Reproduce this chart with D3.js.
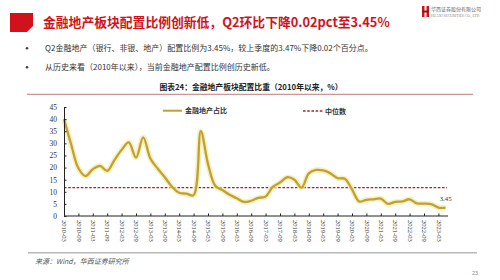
<!DOCTYPE html>
<html>
<head>
<meta charset="utf-8">
<script src="https://cdn.jsdelivr.net/npm/d3@7"></script>
<style>
  body { margin: 0; background: #fff; }
  svg { display: block; }
  .cn { font-family: "Noto Sans CJK SC", "Noto Sans", sans-serif; }
  .axis text { font-family: "Liberation Serif", "DejaVu Serif", serif; fill: #333; }
  .axis path, .axis line { stroke: #222; }
</style>
</head>
<body>
<svg id="chart" width="500" height="280"></svg>
<script>
// quarter ends, 2010Q1 .. 2023Q2
var quarters = [
  "2010-03","2010-06","2010-09","2010-12","2011-03","2011-06","2011-09","2011-12",
  "2012-03","2012-06","2012-09","2012-12","2013-03","2013-06","2013-09","2013-12",
  "2014-03","2014-06","2014-09","2014-12","2015-03","2015-06","2015-09","2015-12",
  "2016-03","2016-06","2016-09","2016-12","2017-03","2017-06","2017-09","2017-12",
  "2018-03","2018-06","2018-09","2018-12","2019-03","2019-06","2019-09","2019-12",
  "2020-03","2020-06","2020-09","2020-12","2021-03","2021-06","2021-09","2021-12",
  "2022-03","2022-06","2022-09","2022-12","2023-03","2023-06"
];
// 金融地产占比 (%)
var shareValues = [
  40.0, 29.5, 19.7, 16.5, 19.3, 20.7, 18.6, 23.1,
  27.3, 30.4, 24.1, 32.5, 23.7, 19.6, 16.0, 12.1,
  9.6, 9.2, 8.6, 35.0, 21.5, 12.5, 10.7, 8.8,
  7.3, 5.8, 6.3, 7.5, 8.0, 12.0, 13.8, 16.0,
  15.0, 11.7, 17.6, 19.0, 18.8, 17.6, 15.6, 15.4,
  11.0, 6.0, 6.7, 6.9, 7.2, 5.0, 5.8, 6.0,
  6.9, 5.2, 5.1, 4.9, 3.47, 3.45
];
var medianValue = 11.7;
var tickLabels = [
  "2010-03","2010-09","2011-03","2011-09","2012-03","2012-09","2013-03","2013-09",
  "2014-03","2014-09","2015-03","2015-09","2016-03","2016-09","2017-03","2017-09",
  "2018-03","2018-09","2019-03","2019-09","2020-03","2020-09","2021-03","2021-09",
  "2022-03","2022-09","2023-03"
];
var yTicks = [0, 5, 10, 15, 20, 25, 30, 35, 40, 45];

var svg = d3.select("#chart");
var red = "#d2121b";

// header block
svg.append("path")
  .attr("d", "M10,13 H33 V26 L27,32 H10 Z")
  .attr("fill", red);
svg.append("text").attr("class", "cn")
  .attr("x", 43).attr("y", 27)
  .attr("font-size", 12.8).attr("font-weight", "bold")
  .attr("fill", red)
  .text("金融地产板块配置比例创新低，Q2环比下降0.02pct至3.45%");

// logo
svg.append("rect").attr("x", 422).attr("y", 6).attr("width", 2.5).attr("height", 11).attr("fill", red);
svg.append("rect").attr("x", 426.5).attr("y", 6).attr("width", 2.5).attr("height", 11).attr("fill", red);
svg.append("rect").attr("x", 422).attr("y", 10.5).attr("width", 7).attr("height", 2).attr("fill", "#8a1a1a");
svg.append("text").attr("class", "cn").attr("x", 431).attr("y", 11)
  .attr("font-size", 5).attr("fill", "#666").text("华西证券股份有限公司");
svg.append("text").attr("x", 431).attr("y", 16.5)
  .attr("font-family", "Liberation Serif").attr("font-size", 3.6).attr("fill", "#888")
  .text("HUAXI SECURITIES CO., LTD.");

// bullets
var bullets = [
  { y: 51, t: "Q2金融地产（银行、非银、地产）配置比例为3.45%，较上季度的3.47%下降0.02个百分点。" },
  { y: 70, t: "从历史来看（2010年以来），当前金融地产配置比例创历史新低。" }
];
bullets.forEach(function (b) {
  svg.append("circle").attr("cx", 27).attr("cy", b.y - 2.8).attr("r", 1.3).attr("fill", "#444");
  svg.append("text").attr("class", "cn")
    .attr("x", 45).attr("y", b.y)
    .attr("font-size", 8).attr("fill", "#333")
    .text(b.t);
});

// chart title + rules
svg.append("text").attr("class", "cn")
  .attr("x", 251).attr("y", 89.5)
  .attr("text-anchor", "middle")
  .attr("font-size", 7.8).attr("font-weight", "bold").attr("fill", "#222")
  .text("图表24：金融地产板块配置比重（2010年以来，%）");
svg.append("line").attr("x1", 27).attr("x2", 473).attr("y1", 94.3).attr("y2", 94.3)
  .attr("stroke", "#b3585a").attr("stroke-width", 0.8);
svg.append("line").attr("x1", 28).attr("x2", 477).attr("y1", 252.7).attr("y2", 252.7)
  .attr("stroke", "#b8b8b8").attr("stroke-width", 1.4);

// scales
var x = d3.scalePoint().domain(quarters).range([64, 445.6]);
var y = d3.scaleLinear().domain([0, 45]).range([216, 107]);

// median
svg.append("line")
  .attr("x1", x(quarters[0])).attr("x2", 447)
  .attr("y1", y(medianValue)).attr("y2", y(medianValue))
  .attr("stroke", "#a8232b").attr("stroke-width", 1.3)
  .attr("stroke-dasharray", "2.6,1.6");

// line with glow
var line = d3.line()
  .x(function (d, i) { return x(quarters[i]); })
  .y(function (d) { return y(d); })
  .curve(d3.curveCatmullRom.alpha(0.5));

svg.append("path").datum(shareValues)
  .attr("d", line).attr("fill", "none")
  .attr("stroke", "#f4eaa6").attr("stroke-width", 5.5).attr("stroke-opacity", 0.7)
  .attr("stroke-linejoin", "round");
svg.append("path").datum(shareValues)
  .attr("d", line).attr("fill", "none")
  .attr("stroke", "#bfa332").attr("stroke-width", 2.3)
  .attr("stroke-linejoin", "round");

// axes
var yAxis = svg.append("g").attr("class", "axis")
  .attr("transform", "translate(64,0)")
  .call(d3.axisLeft(y).tickValues(yTicks).tickSizeInner(-2.5).tickSizeOuter(0).tickPadding(7));
yAxis.selectAll("text").attr("font-size", 7.5);

var xAxis = svg.append("g").attr("class", "axis")
  .attr("transform", "translate(0,216)")
  .call(d3.axisBottom(x).tickValues(tickLabels).tickSizeInner(-2.5).tickSizeOuter(0));
xAxis.select(".domain").attr("d", "M64,0H448");
xAxis.selectAll("text")
  .attr("font-size", 6.5)
  .attr("transform", "rotate(90)")
  .attr("x", 4).attr("y", 0).attr("dy", "0.35em")
  .style("text-anchor", "start");

// last value label
var lastIdx = shareValues.length - 1;
svg.append("text")
  .attr("x", x(quarters[lastIdx])).attr("y", y(shareValues[lastIdx]) - 7)
  .attr("text-anchor", "middle")
  .attr("font-family", "Liberation Serif").attr("font-size", 6.8).attr("fill", "#333")
  .text(shareValues[lastIdx].toFixed(2));

// legend
svg.append("line").attr("x1", 163).attr("x2", 182).attr("y1", 110.7).attr("y2", 110.7)
  .attr("stroke", "#bfa332").attr("stroke-width", 2);
svg.append("text").attr("class", "cn").attr("x", 185).attr("y", 113.3)
  .attr("font-size", 7).attr("font-weight", "bold").attr("fill", "#333").text("金融地产占比");
svg.append("line").attr("x1", 303).attr("x2", 323).attr("y1", 111).attr("y2", 111)
  .attr("stroke", "#a8232b").attr("stroke-width", 1.3).attr("stroke-dasharray", "2.6,1.6");
svg.append("text").attr("class", "cn").attr("x", 325).attr("y", 113.5)
  .attr("font-size", 7).attr("font-weight", "bold").attr("fill", "#333").text("中位数");

// footer
svg.append("text").attr("class", "cn")
  .attr("x", 35).attr("y", 264)
  .attr("font-size", 7).attr("font-style", "italic").attr("fill", "#555")
  .text("来源：Wind，华西证券研究所");
svg.append("text")
  .attr("x", 475).attr("y", 275)
  .attr("text-anchor", "middle")
  .attr("font-family", "Liberation Sans").attr("font-size", 5.5).attr("fill", "#888")
  .text("23");
</script>
</body>
</html>
